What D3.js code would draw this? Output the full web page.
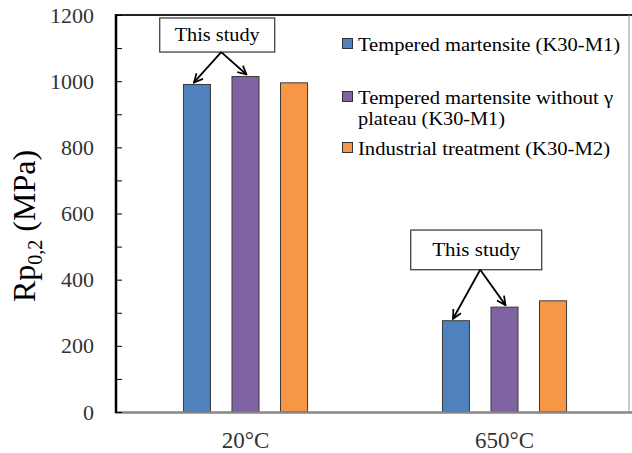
<!DOCTYPE html>
<html>
<head>
<meta charset="utf-8">
<script src="https://cdn.jsdelivr.net/npm/d3@7"></script>
<style>
    body { margin: 0; background: #fff; }
</style>
</head>
<body>
<svg width="632" height="453" font-family="'Liberation Serif', serif"></svg>
<script>
// data
var categories = ["20°C", "650°C"];
var series = ["Tempered martensite (K30-M1)", "Tempered martensite without γ plateau (K30-M1)", "Industrial treatment (K30-M2)"];
var martensite = [990, 276];
var noPlateau = [1014, 317];
var industrial = [995, 336];
var yTicks = [0, 200, 400, 600, 800, 1000, 1200];
var minorTicks = d3.range(0, 1201, 100);
var colors = ["#4f81bd", "#8064a2", "#f79646"];

var values = [martensite, noPlateau, industrial];
var serif = "'Liberation Serif', 'Times New Roman', Times, serif";

var svg = d3.select("svg");
var x = d3.scaleBand().domain(categories).range([116, 634]);
var xSub = d3.scaleBand().domain(series).range([0, x.bandwidth()])
    .paddingInner(0.443).paddingOuter(1.39);
var y = d3.scaleLinear().domain([0, 1200]).range([412, 15]);

var bars = [];
categories.forEach((c, i) => {
    series.forEach((s, j) => {
        bars.push({ cat: c, name: s, value: values[j][i], color: colors[j] });
    });
});

// frame
svg.append("line").attr("x1", 116).attr("x2", 632).attr("y1", 15).attr("y2", 15)
    .attr("stroke", "#222").attr("stroke-width", 2);
svg.append("line").attr("x1", 629).attr("x2", 629).attr("y1", 15).attr("y2", 412)
    .attr("stroke", "#999").attr("stroke-width", 1);

//bars
svg.selectAll("rect.bar").data(bars).enter()
    .append("rect")
    .attr("class", "bar")
    .attr("x", d => x(d.cat) + xSub(d.name))
    .attr("y", d => y(d.value))
    .attr("width", xSub.bandwidth())
    .attr("height", d => y(0) - y(d.value))
    .attr("fill", d => d.color)
    .attr("stroke", "#3a3a3a")
    .attr("stroke-width", 1);

// x axis (grey baseline)
svg.append("line").attr("x1", 115).attr("x2", 632).attr("y1", y(0) + 0.5).attr("y2", y(0) + 0.5)
    .attr("stroke", "#868686").attr("stroke-width", 2.5);

// y axis: ticks point inside, label every 200
var yAxis = svg.append("g").attr("transform", "translate(116,0)")
    .call(d3.axisRight(y).tickValues(minorTicks).tickSize(6).tickFormat(""));
yAxis.select(".domain").remove();
yAxis.selectAll("line").attr("stroke", "#000").attr("stroke-width", 1);
svg.append("line").attr("x1", 116).attr("x2", 116).attr("y1", 14).attr("y2", 413)
    .attr("stroke", "#000").attr("stroke-width", 2.5);

svg.selectAll("text.ytick").data(yTicks).enter()
    .append("text")
    .attr("class", "ytick")
    .attr("x", 94)
    .attr("y", d => y(d) + 7.5)
    .attr("text-anchor", "end")
    .style("font-family", serif)
    .style("font-size", "22px")
    .style("fill", "#333")
    .text(d => d);

svg.selectAll("text.xlab").data(categories).enter()
    .append("text")
    .attr("class", "xlab")
    .attr("x", d => x(d) + x.bandwidth() / 2)
    .attr("y", 448)
    .attr("text-anchor", "middle")
    .style("font-family", serif)
    .style("font-size", "23px")
    .style("fill", "#333")
    .text(d => d);

// axis title
var title = svg.append("text")
    .attr("transform", "translate(35,226) rotate(-90)")
    .attr("text-anchor", "middle")
    .style("font-family", serif)
    .style("font-size", "32px");
title.append("tspan").text("Rp");
title.append("tspan").attr("dy", 7).style("font-size", "20px").text("0,2");
title.append("tspan").attr("dy", -7).text(" (MPa)");

// legend
var legendRows = [
    { lines: ["Tempered martensite (K30-M1)"], y: 51, len: [262] },
    { lines: ["Tempered martensite without γ", "plateau (K30-M1)"], y: 104, len: [255, 147] },
    { lines: ["Industrial treatment (K30-M2)"], y: 155, len: [252] }
];
legendRows.forEach((r, i) => {
    svg.append("rect")
        .attr("x", 342.5).attr("y", r.y - 12.5)
        .attr("width", 10).attr("height", 10)
        .attr("fill", colors[i]).attr("stroke", "#333");
    r.lines.forEach((t, k) => {
        svg.append("text")
            .attr("x", 358)
            .attr("y", r.y + k * 21)
            .attr("textLength", r.len[k])
            .attr("lengthAdjust", "spacingAndGlyphs")
            .style("font-family", serif)
            .style("font-size", "19px")
            .text(t);
    });
});

// "This study" call-outs
var defs = svg.append("defs");
defs.append("marker")
    .attr("id", "head")
    .attr("viewBox", "0 0 10 10")
    .attr("refX", 9).attr("refY", 5)
    .attr("markerWidth", 6).attr("markerHeight", 6)
    .attr("orient", "auto")
    .append("path")
    .attr("d", "M1,1 L9,5 L1,9")
    .attr("fill", "none").attr("stroke", "#000").attr("stroke-width", 1.6);

var notes = [
    { cat: "20°C", top: 1191, bottom: 1088, w: 115, tl: 85 },
    { cat: "650°C", top: 550, bottom: 430, w: 131, tl: 88 }
];
notes.forEach(n => {
    var ci = categories.indexOf(n.cat);
    var b1 = x(n.cat) + xSub(series[0]) + xSub.bandwidth() / 2;
    var b2 = x(n.cat) + xSub(series[1]) + xSub.bandwidth() / 2;
    var ox = (b1 + b2) / 2;
    var cx = ox - 4;
    var y0 = y(n.bottom);
    svg.append("rect")
        .attr("x", cx - n.w / 2).attr("y", y(n.top))
        .attr("width", n.w).attr("height", y(n.bottom) - y(n.top))
        .attr("fill", "#fff").attr("stroke", "#333").attr("stroke-width", 1.2);
    svg.append("text")
        .attr("x", cx).attr("y", (y(n.top) + y(n.bottom)) / 2 + 6)
        .attr("text-anchor", "middle")
        .attr("textLength", n.tl)
        .attr("lengthAdjust", "spacingAndGlyphs")
        .style("font-family", serif)
        .style("font-size", "19px")
        .text("This study");
    [[b1 - 3, martensite[ci]], [b2 + 1, noPlateau[ci]]].forEach(p => {
        svg.append("line")
            .attr("x1", ox).attr("y1", y0)
            .attr("x2", p[0]).attr("y2", y(p[1]) - 2)
            .attr("stroke", "#000").attr("stroke-width", 1.8)
            .attr("marker-end", "url(#head)");
    });
});
</script>
</body>
</html>
